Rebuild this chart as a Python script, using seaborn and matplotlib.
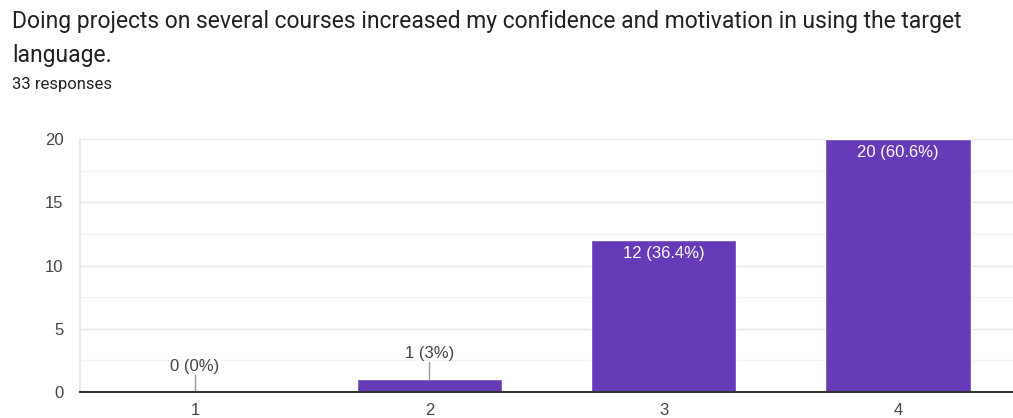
import matplotlib
matplotlib.use("Agg")
import matplotlib.pyplot as plt
import numpy as np
import pandas as pd
import seaborn as sns
from matplotlib.ticker import MultipleLocator

title_lines = [
    "Doing projects on several courses increased my confidence and motivation in using the target",
    "language.",
]
subtitle = "33 responses"
categories = ["1", "2", "3", "4"]
counts = [0, 1, 12, 20]
total = 33

BAR = "#673AB7"

sns.set_theme(style="white")
plt.rcParams["font.family"] = ["Liberation Sans", "DejaVu Sans"]

df = pd.DataFrame({"answer": categories, "count": counts})

fig = plt.figure(figsize=(10.13, 4.18), dpi=100)
ax = fig.add_axes([0.079, 0.062, 0.921, 0.605])

sns.barplot(data=df, x="answer", y="count", color=BAR, width=0.62,
            saturation=1, ax=ax, zorder=3)

ax.set_ylim(0, 20)
ax.yaxis.set_major_locator(MultipleLocator(5))
ax.yaxis.set_minor_locator(MultipleLocator(2.5))
ax.grid(which="major", axis="y", color="#e6e6e6", lw=1, zorder=0)
ax.grid(which="minor", axis="y", color="#f3f3f3", lw=1, zorder=0)
ax.set_axisbelow(True)

for s in ["top", "right"]:
    ax.spines[s].set_visible(False)
ax.spines["left"].set_color("#e6e6e6")
ax.spines["bottom"].set_color("#333333")
ax.spines["bottom"].set_linewidth(1.5)
ax.spines["bottom"].set_zorder(5)

ax.tick_params(axis="both", length=0, labelsize=12, colors="#444444")
ax.tick_params(axis="x", pad=8)
ax.tick_params(axis="y", pad=12)
ax.set_xlabel("")
ax.set_ylabel("")

for i, c in enumerate(counts):
    pct = round(c / total * 100, 1)
    label = f"{c} ({pct:g}%)"
    if c >= 5:
        ax.text(i, c - 0.45, label, ha="center", va="top", color="white",
                fontsize=12, zorder=6)
    else:
        ax.plot([i, i], [c, c + 1.35], color="#999999", lw=1, zorder=4)
        ax.text(i, c + 1.45, label, ha="center", va="bottom", color="#444444",
                fontsize=12, zorder=6)

for k, line in enumerate(title_lines):
    fig.text(0.012, 1 - (28 + 34 * k) / 418, line, ha="left", va="baseline",
             fontsize=16.5, color="#202124", family=["Roboto", "DejaVu Sans"])
fig.text(0.012, 1 - 89 / 418, subtitle, ha="left", va="baseline", fontsize=12,
         color="#202124", family=["Roboto", "DejaVu Sans"])

fig.savefig("out.png", dpi=100)
